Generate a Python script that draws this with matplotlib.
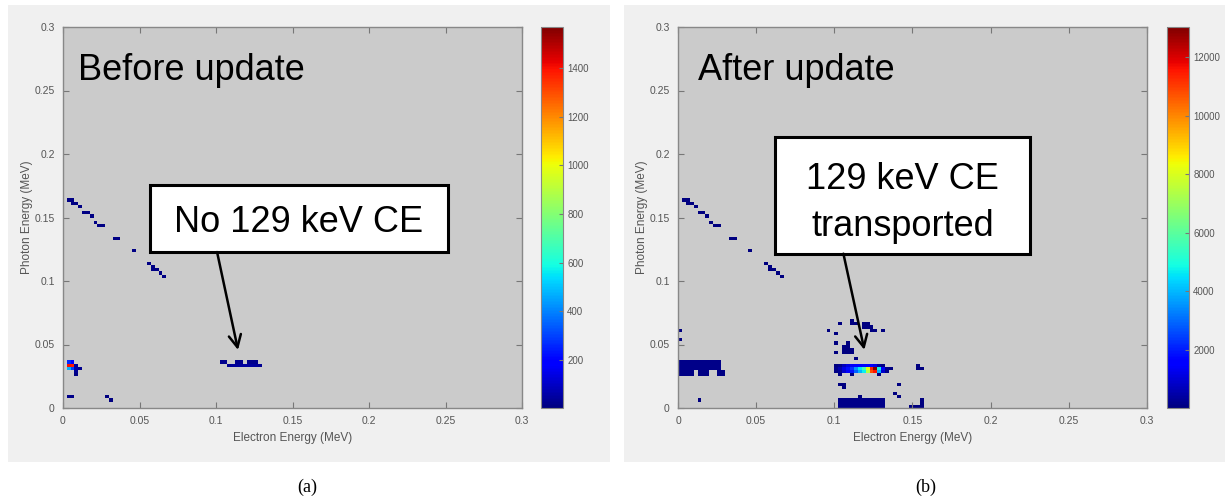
import numpy as np
import matplotlib
matplotlib.use('Agg')
import matplotlib.pyplot as plt
from matplotlib.patches import Rectangle
from matplotlib.colors import Normalize

plt.rcParams['font.family'] = ['Liberation Sans', 'DejaVu Sans']

# 2D histogram: bin width 0.0025 MeV, 120 x 120 bins over 0..0.3 MeV
bin_mev = 0.0025
n_bins = 120

# diagonal line (same in both runs), bin indices
diag_ix = [1, 2, 2, 3, 4, 5, 6, 7, 8, 9, 10, 13, 14, 18, 22, 23, 23, 24, 25, 26]
diag_iy = [65, 65, 64, 64, 63, 61, 61, 60, 58, 57, 57, 53, 53, 49, 45, 44, 43, 43, 42, 41]
diag_cnt = [8] * len(diag_ix)

# (a) before update
a_ix = [1, 2, 1, 2, 3, 1, 2, 3, 4, 3, 3,
        1, 2, 11, 12,
        41, 42, 45, 46, 48, 49, 50,
        43, 44, 45, 46, 47, 48, 49, 50, 51]
a_iy = [14, 14, 13, 13, 13, 12, 12, 12, 12, 11, 10,
        3, 3, 3, 2,
        14, 14, 14, 14, 14, 14, 14,
        13, 13, 13, 13, 13, 13, 13, 13, 13]
a_cnt = [260, 190, 1400, 1380, 40, 470, 300, 60, 20, 30, 12,
         15, 15, 5, 5,
         20, 20, 20, 20, 25, 25, 20,
         30, 40, 40, 45, 50, 50, 45, 40, 30]

# (b) after update
b_ix = ([0, 0] + list(range(0, 11)) * 3
        + [0, 1, 2, 3, 5, 6, 7, 10, 11] * 2 + [5]
        + [38, 41, 44, 44, 45, 47, 48, 47, 48, 49, 49, 50, 52]
        + [40, 40, 40, 43, 42, 43, 42, 43, 44, 42, 43, 44, 45]
        + list(range(40, 53)) + list(range(40, 55)) + list(range(40, 54))
        + [41, 44, 51, 41, 42, 42]
        + list(range(41, 53)) * 3 + [46]
        + [56, 55, 56, 59, 60, 61, 62, 62, 62, 61, 61, 62])
b_iy = ([24, 21] + [14] * 11 + [13] * 11 + [12] * 11
        + [11] * 9 + [10] * 9 + [2]
        + [24, 26, 27, 26, 26, 26, 26, 25, 25, 25, 24, 24, 24]
        + [23, 20, 17, 20, 19, 19, 18, 18, 18, 17, 17, 17, 15]
        + [13] * 13 + [12] * 15 + [11] * 14
        + [10, 10, 10, 7, 7, 6]
        + [2] * 12 + [1] * 12 + [0] * 12 + [3]
        + [7, 4, 3, 0, 0, 0, 0, 1, 2, 13, 12, 12])
band_top = [50, 200, 700, 1100, 1400, 1500, 1600, 1700, 1700, 1600, 1200, 400, 80]
band_mid = [200, 600, 1200, 1800, 2300, 3500, 4600, 5600, 8200, 11400, 13000,
            4800, 1600, 200, 40]
band_low = [100, 300, 900, 1400, 1900, 2900, 3900, 4700, 7400, 10800, 11600,
            3900, 900, 120]
b_cnt = ([15, 15] + [120] * 33 + [60] * 18 + [10]
         + [10] * 13 + [10] * 13
         + band_top + band_mid + band_low
         + [20] * 6
         + [150] * 36 + [20]
         + [10] * 12)

vmin_a, vmax_a = 1, 1570
vmin_b, vmax_b = 1, 13040
cb_ticks_a = [200, 400, 600, 800, 1000, 1200, 1400]
cb_ticks_b = [2000, 4000, 6000, 8000, 10000, 12000]
axis_ticks = [0, 0.05, 0.1, 0.15, 0.2, 0.25, 0.3]
axis_ticklabels = ['0', '0.05', '0.1', '0.15', '0.2', '0.25', '0.3']


def build_grid(ix, iy, cnt):
    grid = np.zeros((n_bins, n_bins))
    for i, j, c in zip(ix, iy, cnt):
        grid[j, i] = c
    return np.ma.masked_equal(grid, 0)


fig = plt.figure(figsize=(12.25, 5.01), dpi=100)
fig.patch.set_facecolor('white')

# grey MATLAB figure backgrounds
for x0, w in [(8, 602), (624, 601)]:
    fig.patches.append(Rectangle((x0 / 1225, 39 / 501), w / 1225, 457 / 501,
                                 transform=fig.transFigure, facecolor='#f0f0f0',
                                 edgecolor='none', zorder=-5))

cmap = plt.get_cmap('jet').copy()
cmap.set_bad((0, 0, 0, 0))
edges = np.arange(n_bins + 1) * bin_mev

panels = [
    dict(ax=[63, 459], cax=541, ix=diag_ix + a_ix, iy=diag_iy + a_iy,
         cnt=diag_cnt + a_cnt, vmin=vmin_a, vmax=vmax_a, ticks=cb_ticks_a,
         title='Before update', title_x=0.0098,
         box=(0.0569, 0.1228, 0.1947, 0.0528), box_text='No 129 keV CE',
         text_dy=-0.003, spacing=1.3,
         arrow=((0.1007, 0.1228), (0.1144, 0.0457)), letter='(a)', letter_x=307),
    dict(ax=[678, 469], cax=1167, ix=diag_ix + b_ix, iy=diag_iy + b_iy,
         cnt=diag_cnt + b_cnt, vmin=vmin_b, vmax=vmax_b, ticks=cb_ticks_b,
         title='After update', title_x=0.0128,
         box=(0.0621, 0.1215, 0.1631, 0.0916), box_text='129 keV CE\ntransported',
         text_dy=-0.006, spacing=1.45,
         arrow=((0.1058, 0.1215), (0.1192, 0.0458)), letter='(b)', letter_x=926),
]

tick_col = '#555555'
for p in panels:
    left, width = p['ax']
    ax = fig.add_axes([left / 1225, 93 / 501, width / 1225, 381 / 501])
    ax.set_facecolor('#cbcbcb')
    grid = build_grid(p['ix'], p['iy'], p['cnt'])
    mesh = ax.pcolormesh(edges, edges, grid, cmap=cmap,
                         norm=Normalize(vmin=p['vmin'], vmax=p['vmax']))
    ax.set_xlim(0, 0.3)
    ax.set_ylim(0, 0.3)
    ax.set_xticks(axis_ticks)
    ax.set_xticklabels(axis_ticklabels)
    ax.set_yticks(axis_ticks)
    ax.set_yticklabels(axis_ticklabels)
    ax.tick_params(direction='in', length=4, width=0.8, top=True, right=True,
                   colors='#777777', labelcolor=tick_col, labelsize=7.5, pad=6)
    for s in ax.spines.values():
        s.set_color('#888888')
        s.set_linewidth(1.0)
    ax.set_xlabel('Electron Energy (MeV)', fontsize=8.5, color=tick_col, labelpad=4)
    ax.set_ylabel('Photon Energy (MeV)', fontsize=8.5, color=tick_col, labelpad=1)

    ax.text(p['title_x'], 0.258, p['title'], fontsize=26, va='baseline', ha='left')
    bx, by, bw, bh = p['box']
    ax.add_patch(Rectangle((bx, by), bw, bh, facecolor='white', edgecolor='black',
                           linewidth=2.2, zorder=5))
    ax.text(bx + bw / 2, by + bh / 2 + p['text_dy'], p['box_text'], fontsize=26,
            ha='center', va='center', linespacing=p['spacing'], zorder=6)
    start, tip = p['arrow']
    ax.annotate('', xy=tip, xytext=start, zorder=6,
                arrowprops=dict(arrowstyle='->', lw=1.8, color='black',
                                mutation_scale=22, shrinkA=0, shrinkB=0))

    cax = fig.add_axes([p['cax'] / 1225, 93 / 501, 22 / 1225, 381 / 501])
    cb = fig.colorbar(mesh, cax=cax)
    cb.set_ticks(p['ticks'])
    cb.ax.tick_params(direction='in', length=3, width=0.8, colors='#777777',
                      labelcolor=tick_col, labelsize=7, pad=3)
    cb.outline.set_edgecolor('#888888')

    fig.text(p['letter_x'] / 1225, 1 - 487 / 501, p['letter'], fontsize=13,
             family=['Liberation Serif', 'DejaVu Serif'], ha='center', va='center')

fig.savefig('out.png', dpi=100, facecolor=fig.get_facecolor())
